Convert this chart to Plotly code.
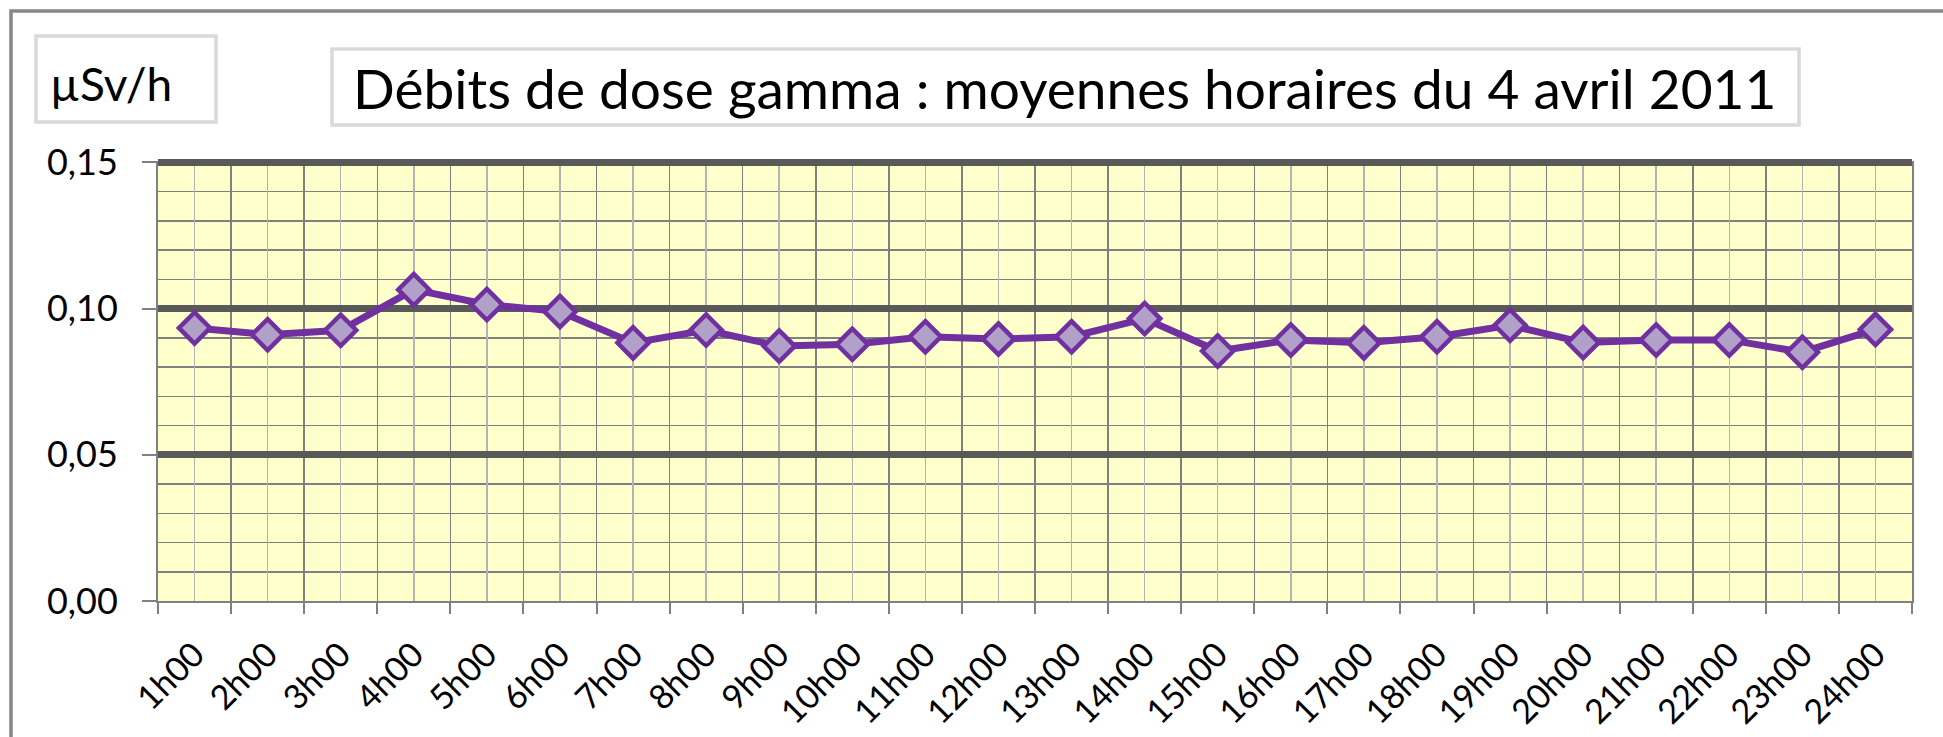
import plotly.graph_objects as go

# ---- data ----
hours = ["1h00", "2h00", "3h00", "4h00", "5h00", "6h00", "7h00", "8h00",
         "9h00", "10h00", "11h00", "12h00", "13h00", "14h00", "15h00", "16h00",
         "17h00", "18h00", "19h00", "20h00", "21h00", "22h00", "23h00", "24h00"]
dose_rate = [0.0934, 0.0911, 0.0926, 0.1065, 0.1014, 0.0990, 0.0883, 0.0927,
             0.0872, 0.0878, 0.0904, 0.0896, 0.0904, 0.0966, 0.0855, 0.0893,
             0.0883, 0.0904, 0.0943, 0.0884, 0.0893, 0.0893, 0.0851, 0.0929]
y_ticks = [0.00, 0.05, 0.10, 0.15]
title_text = "Débits de dose gamma : moyennes horaires du 4 avril 2011"
unit_text = "µSv/h"

# ---- layout geometry (pixels) ----
W, H = 1943, 737
L, R, T, B = 158, 1912, 161, 601

def px_x(p):
    return (p - L) / (R - L)

def px_y(p):
    return (B - p) / (B - T)

x_pos = list(range(1, len(hours) + 1))

fig = go.Figure()
fig.add_trace(go.Scatter(
    x=x_pos, y=dose_rate, mode="lines+markers",
    line=dict(color="#7030A0", width=7),
    marker=dict(symbol="diamond", size=24, color="#B1A0C7",
                line=dict(color="#7030A0", width=4.5)),
    showlegend=False, hoverinfo="skip",
))

FONT = "Lato"
fig.update_layout(
    template="none",
    width=W, height=H,
    margin=dict(l=L, r=W - R, t=T, b=H - B, pad=0, autoexpand=False),
    paper_bgcolor="white",
    plot_bgcolor="#FFFFCC",
    separators=", ",
    font=dict(family=FONT, color="black"),
    xaxis=dict(
        range=[0.5, 24.5], automargin=False,
        tickmode="array", tickvals=x_pos, ticktext=hours,
        tickangle=-45, tickfont=dict(size=34, family=FONT, color="black"),
        ticks="", ticklabelstandoff=18,
        showgrid=True, gridcolor="#B3B3B3", gridwidth=1.5,
        minor=dict(tickmode="linear", tick0=0.5, dtick=1, ticks="outside",
                   ticklen=11, tickwidth=2, tickcolor="#808080",
                   showgrid=True, gridcolor="#808080", gridwidth=1.5),
        showline=True, linecolor="#808080", linewidth=2,
        zeroline=False, fixedrange=True,
    ),
    yaxis=dict(
        range=[0, 0.1505], automargin=False,
        tickmode="array", tickvals=y_ticks, tickformat=".2f",
        tickfont=dict(size=36, family=FONT, color="black"),
        ticks="outside", ticklen=14, tickwidth=2, tickcolor="#808080",
        ticklabelstandoff=17,
        showgrid=True, gridcolor="#595959", gridwidth=7,
        minor=dict(tickmode="linear", tick0=0, dtick=0.01, ticks="",
                   showgrid=True, gridcolor="#808080", gridwidth=1.5),
        showline=True, linecolor="#808080", linewidth=2, mirror=True,
        zeroline=False, fixedrange=True,
    ),
    shapes=[
        dict(type="rect", xref="paper", yref="paper",
             x0=px_x(11), x1=px_x(2100), y0=px_y(900), y1=px_y(11),
             line=dict(color="#878787", width=3.5), fillcolor="rgba(0,0,0,0)", layer="above"),
        dict(type="rect", xref="paper", yref="paper",
             x0=px_x(36), x1=px_x(216), y0=px_y(122), y1=px_y(36),
             line=dict(color="#D9D9D9", width=3.5), fillcolor="white", layer="above"),
        dict(type="rect", xref="paper", yref="paper",
             x0=px_x(332), x1=px_x(1799), y0=px_y(125), y1=px_y(49),
             line=dict(color="#D9D9D9", width=3.5), fillcolor="white", layer="above"),
    ],
    annotations=[
        dict(text=unit_text, xref="paper", yref="paper",
             x=px_x(48), y=px_y(83), xanchor="left", yanchor="middle",
             showarrow=False, font=dict(family=FONT, size=46, color="black")),
        dict(text=title_text, xref="paper", yref="paper",
             x=px_x(1064), y=px_y(88.5), xanchor="center", yanchor="middle",
             showarrow=False, font=dict(family=FONT, size=55, color="black")),
    ],
)

fig.write_html(
    "out.html",
    config={"displayModeBar": False, "staticPlot": True},
    post_script="document.body.style.margin='0px';document.body.style.padding='0px';"
                "document.body.style.overflow='hidden';",
)
